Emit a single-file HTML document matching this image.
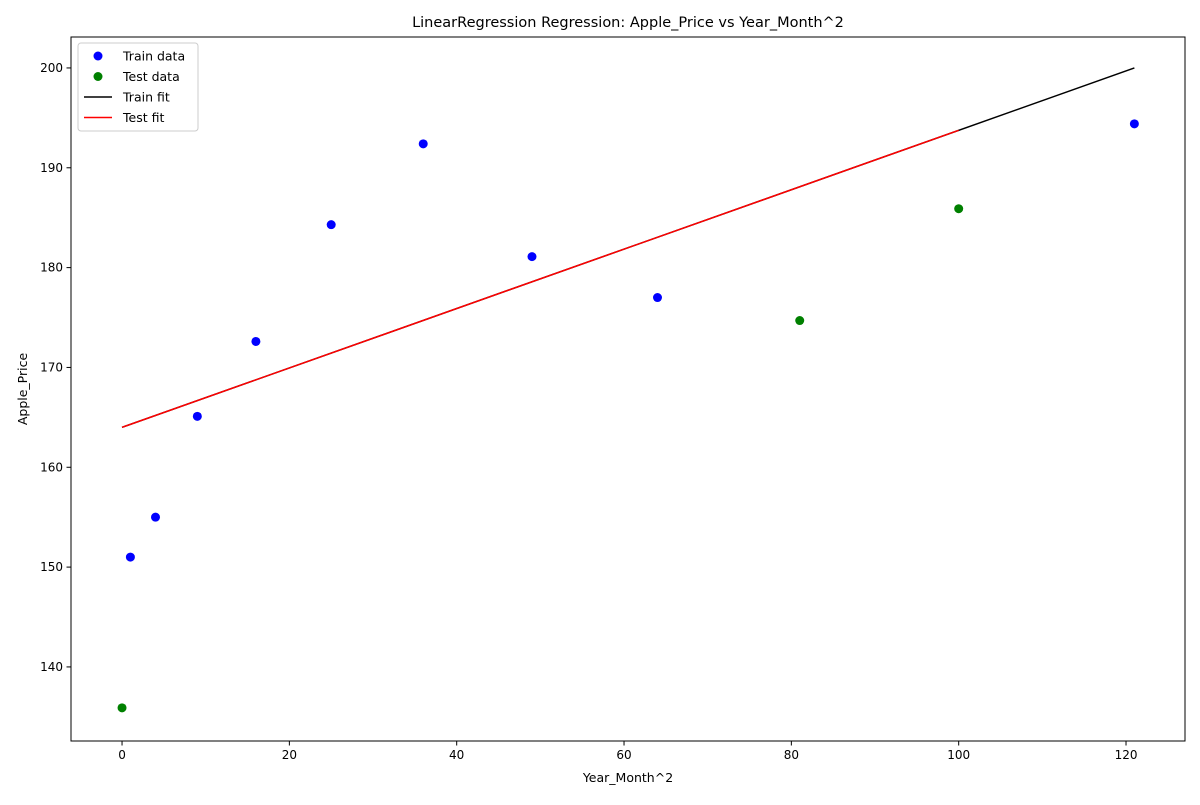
<!DOCTYPE html>
<html><head><meta charset="utf-8">
<style>
body{margin:0;background:#fff;}
svg text{font-family:"DejaVu Sans","Liberation Sans",sans-serif;fill:#000;}
</style></head>
<body>
<svg id="chart" width="1200" height="800" xmlns="http://www.w3.org/2000/svg"></svg>
<script>
const trainX=[1,4,9,16,25,36,49,64,121];
const trainY=[151,155,165.1,172.6,184.3,192.4,181.1,177,194.4];
const testX=[0,81,100];
const testY=[135.9,174.7,185.9];
const fitIntercept=164.0;
const fitSlope=0.2975;
const xTicks=[0,20,40,60,80,100,120];
const yTicks=[140,150,160,170,180,190,200];

const L=71,R=1185,T=37,B=741;
const xMin=-6.1,xMax=127.05,yMin=132.58,yMax=203.1;
const sx=v=>L+(v-xMin)/(xMax-xMin)*(R-L);
const sy=v=>B-(v-yMin)/(yMax-yMin)*(B-T);
const svg=document.getElementById('chart');
const NS='http://www.w3.org/2000/svg';
function mk(tag,attrs,parent){const e=document.createElementNS(NS,tag);for(const k in attrs)e.setAttribute(k,attrs[k]);(parent||svg).appendChild(e);return e;}

// fit lines
const fitF=x=>fitIntercept+fitSlope*x;
const minTrain=0, maxTrain=Math.max(...trainX);
let ln=mk('line',{x1:sx(minTrain),y1:sy(fitF(minTrain)),x2:sx(maxTrain),y2:sy(fitF(maxTrain)),stroke:'#000','stroke-width':1.5});


ln=mk('line',{x1:sx(Math.min(...testX)),y1:sy(fitF(Math.min(...testX))),x2:sx(Math.max(...testX)),y2:sy(fitF(Math.max(...testX))),stroke:'#ff0000','stroke-width':1.5});



trainX.forEach((x,i)=>{const c=mk('circle',{cx:sx(x),cy:sy(trainY[i]),r:4.5,fill:'#0000ff'});

});
testX.forEach((x,i)=>{const c=mk('circle',{cx:sx(x),cy:sy(testY[i]),r:4.5,fill:'#008000'});

});

// frame
const fr=mk('rect',{x:L,y:T,width:R-L,height:B-T,fill:'none',stroke:'#000','stroke-width':1});



xTicks.forEach(t=>{const x=sx(t);mk('line',{x1:x,y1:B,x2:x,y2:B+4.5,stroke:'#000'});
const tx=mk('text',{x:x,y:B+18,'text-anchor':'middle','font-size':12});tx.textContent=t;

});
yTicks.forEach(t=>{const y=sy(t);mk('line',{x1:L-4.5,y1:y,x2:L,y2:y,stroke:'#000'});
const tx=mk('text',{x:L-8,y:y+4,'text-anchor':'end','font-size':12});tx.textContent=t;

});

let t=mk('text',{x:628,y:27,'text-anchor':'middle','font-size':14.5});t.textContent='LinearRegression Regression: Apple_Price vs Year_Month^2';


t=mk('text',{x:628,y:782,'text-anchor':'middle','font-size':12.5});t.textContent='Year_Month^2';


t=mk('text',{x:27,y:389,'text-anchor':'middle','font-size':12.5,transform:'rotate(-90 27 389)'});t.textContent='Apple_Price';



// legend
const lg=mk('g',{});


mk('rect',{x:78,y:43,width:120,height:88,rx:3,fill:'#fff',stroke:'#ccc'},lg);
const items=[['Train data','pt','#0000ff'],['Test data','pt','#008000'],['Train fit','ln','#000'],['Test fit','ln','#ff0000']];
items.forEach((it,i)=>{const y=56+i*20.5;const g=mk('g',{},lg);


if(it[1]==='pt')mk('circle',{cx:98,cy:y,r:4.5,fill:it[2]},g);else mk('line',{x1:84,y1:y,x2:112,y2:y,stroke:it[2],'stroke-width':1.5},g);
const tt=mk('text',{x:123,y:y+4.5,'font-size':12.5},g);tt.textContent=it[0];});
</script>
</body></html>
